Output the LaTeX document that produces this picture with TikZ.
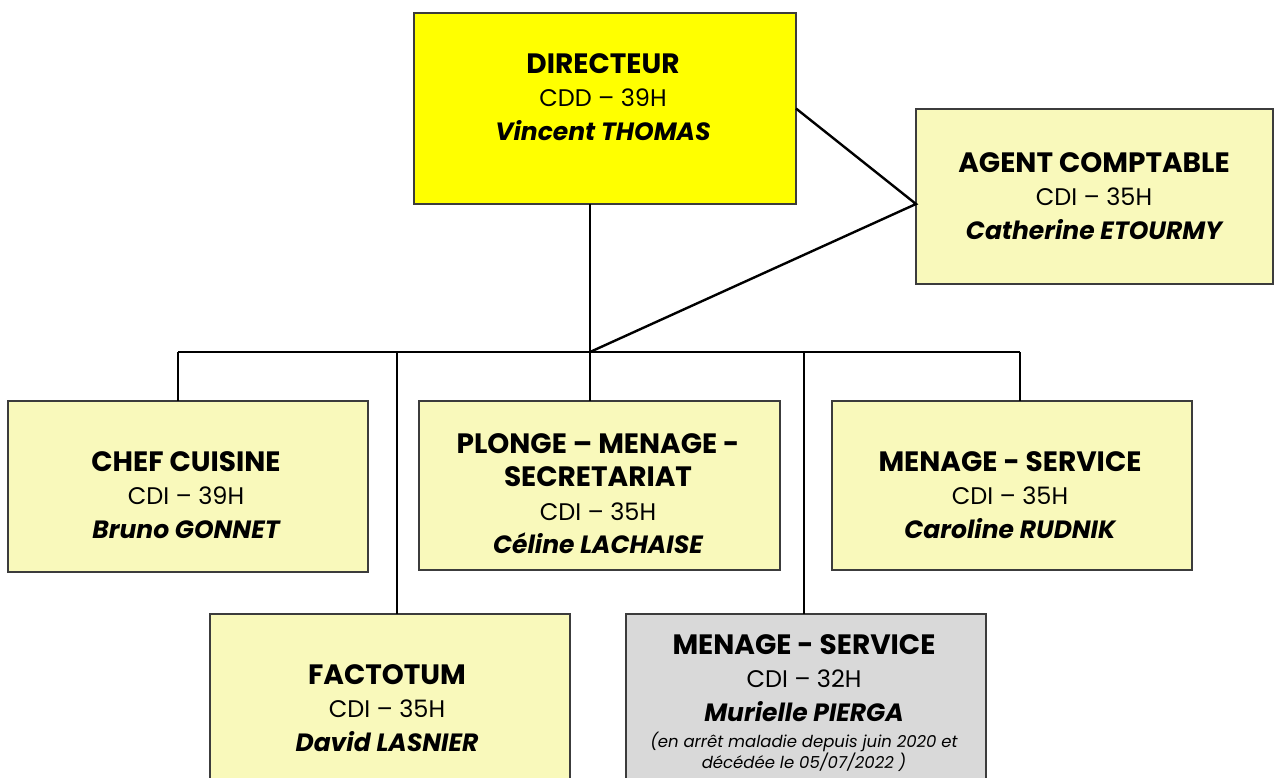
\documentclass[tikz,border=0pt]{standalone}
\usepackage{fontspec}
\setmainfont{Poppins}
\usepackage{tikz}
\usetikzlibrary{positioning,calc}
\definecolor{chartYellow}{HTML}{FFFF00}
\definecolor{chartPale}{HTML}{F9F9BB}
\definecolor{chartGrey}{HTML}{D9D9D9}
\definecolor{chartEdge}{HTML}{3C3C3C}
\newcommand{\postTitle}[1]{{\fontsize{28}{34}\selectfont\bfseries #1}}
\newcommand{\postName}[1]{{\fontsize{25}{34}\selectfont\bfseries\itshape #1}}

\begin{document}
\begin{tikzpicture}[x=1pt,y=-1pt,
  box/.style={draw=chartEdge,line width=1.4pt,fill=chartPale,inner sep=0pt,outer sep=0pt,anchor=north west},
  link/.style={line width=2.4pt},
  txt/.style={align=center,inner sep=0pt,anchor=north,font=\fontsize{24}{33.5}\selectfont},
  note/.style={align=center,inner sep=0pt,anchor=north,font=\fontsize{16.5}{19}\selectfont\itshape}]
\path[use as bounding box,clip] (0,0) rectangle (1274,778);
% boxes
\node[box,fill=chartYellow,minimum width=382pt,minimum height=191pt] (dir) at (414,13) {};
\node[box,minimum width=357pt,minimum height=175pt] (agent) at (916,109) {};
\node[box,minimum width=360pt,minimum height=171pt] (chef) at (8,401) {};
\node[box,minimum width=361pt,minimum height=169pt] (plonge) at (419,401) {};
\node[box,minimum width=360pt,minimum height=169pt] (menR) at (832,401) {};
\node[box,minimum width=360pt,minimum height=200pt] (facto) at (210,614) {};
\node[box,fill=chartGrey,minimum width=360pt,minimum height=200pt] (menG) at (626,614) {};
% texts
\node[txt] (dirText) at (603,53) {\postTitle{DIRECTEUR}\\CDD -- 39H\\\postName{Vincent THOMAS}};
\node[txt] (agentText) at (1094,152) {\postTitle{AGENT COMPTABLE}\\CDI -- 35H\\\postName{Catherine ETOURMY}};
\node[txt] (chefText) at (186,451) {\postTitle{CHEF CUISINE}\\CDI -- 39H\\\postName{Bruno GONNET}};
\node[txt] (plongeText) at (598,433) {\postTitle{PLONGE -- MENAGE -}\\\postTitle{SECRETARIAT}\\CDI -- 35H\\\postName{Céline LACHAISE}};
\node[txt] (menRText) at (1010,451) {\postTitle{MENAGE - SERVICE}\\CDI -- 35H\\\postName{Caroline RUDNIK}};
\node[txt] (factoText) at (387,664) {\postTitle{FACTOTUM}\\CDI -- 35H\\\postName{David LASNIER}};
\node[txt] (menGText) at (804,634) {\postTitle{MENAGE - SERVICE}\\CDI -- 32H\\\postName{Murielle PIERGA}};
\node[note] (menGNote) at (804,732) {(en arrêt maladie depuis juin 2020 et\\décédée le 05/07/2022 )};
% connectors
\coordinate (agJoin) at (916,204);
\coordinate (busL) at (178,352);
\coordinate (busF) at (397,352);
\coordinate (busC) at (590,352);
\coordinate (busG) at (804,352);
\coordinate (busR) at (1020,352);
\draw[link] (busC |- dir.south) -- (busC);
\draw[link] (dir.east) -- (agJoin) -- (busC);
\draw[link] (busL) -- (busR);
\draw[link] (busL) -- (busL |- chef.north);
\draw[link] (busF) -- (busF |- facto.north);
\draw[link] (busC) -- (busC |- plonge.north);
\draw[link] (busG) -- (busG |- menG.north);
\draw[link] (busR) -- (busR |- menR.north);
\end{tikzpicture}
\end{document}
